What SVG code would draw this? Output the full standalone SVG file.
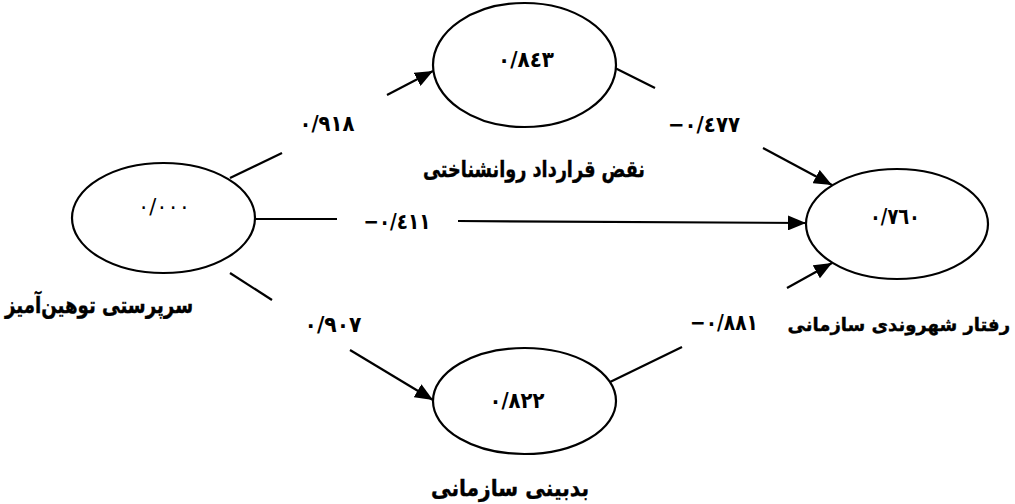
<svg xmlns="http://www.w3.org/2000/svg" width="1015" height="504" viewBox="0 0 1015 504">
<style>
.node ellipse{fill:#fff;stroke:#000;stroke-width:2.2}
.conn line{stroke:#000;stroke-width:2.2;fill:none}
text{font-family:"DejaVu Sans",sans-serif;font-weight:bold;fill:#000}
.val{font-size:22px;text-anchor:middle}
.lbl{font-size:22px;text-anchor:middle}
.name{font-size:23px;text-anchor:middle;stroke:#000;stroke-width:0.4}
</style>
<defs>
<marker id="ah" markerUnits="userSpaceOnUse" markerWidth="19" markerHeight="15" refX="18" refY="7.5" orient="auto">
<path d="M0,0 L18,7.5 L0,15 z" fill="#000"/>
</marker>
</defs>
<rect width="1015" height="504" fill="#fff"/>
<g id="connectors" class="conn">
<line x1="230" y1="178" x2="282" y2="153"/>
<line x1="387" y1="95" x2="433" y2="71" marker-end="url(#ah)"/>
<line x1="615" y1="68" x2="655" y2="88"/>
<line x1="763" y1="148" x2="832" y2="185" marker-end="url(#ah)"/>
<line x1="255" y1="219" x2="337" y2="219"/>
<line x1="458" y1="221" x2="806" y2="223" marker-end="url(#ah)"/>
<line x1="230" y1="273" x2="272" y2="300"/>
<line x1="350" y1="350" x2="433" y2="400" marker-end="url(#ah)"/>
<line x1="608" y1="383" x2="682" y2="347"/>
<line x1="787" y1="288" x2="832" y2="263" marker-end="url(#ah)"/>
</g>
<g id="labels">
<text class="lbl" x="327" y="131" textLength="55" lengthAdjust="spacingAndGlyphs" direction="ltr">٠/٩١٨</text>
<text class="lbl" x="704" y="132" textLength="72" lengthAdjust="spacingAndGlyphs" direction="ltr">−٠/٤٧٧</text>
<text class="lbl" x="397" y="229" textLength="67" lengthAdjust="spacingAndGlyphs" direction="ltr">−٠/٤١١</text>
<text class="lbl" x="333" y="332" textLength="57" lengthAdjust="spacingAndGlyphs" direction="ltr">٠/٩٠٧</text>
<text class="lbl" x="724" y="330" textLength="68" lengthAdjust="spacingAndGlyphs" direction="ltr">−٠/٨٨١</text>
</g>
<g id="node-abusive" class="node">
<ellipse cx="163.5" cy="218" rx="91.5" ry="55"/>
<text class="val" x="164" y="214" style="font-weight:normal" textLength="52" lengthAdjust="spacingAndGlyphs" direction="ltr">٠/٠٠٠</text>
<text class="name" x="99" y="313" textLength="188" lengthAdjust="spacingAndGlyphs">سرپرستی توهین‌آمیز</text>
</g>
<g id="node-breach" class="node">
<ellipse cx="524.5" cy="65" rx="91.5" ry="62"/>
<text class="val" x="526" y="67" textLength="56" lengthAdjust="spacingAndGlyphs" direction="ltr">٠/٨٤٣</text>
<text class="name" x="534" y="177" textLength="222" lengthAdjust="spacingAndGlyphs">نقض قرارداد روانشناختی</text>
</g>
<g id="node-ocb" class="node">
<ellipse cx="897" cy="224" rx="91" ry="55"/>
<text class="val" x="895" y="224" textLength="50" lengthAdjust="spacingAndGlyphs" direction="ltr">٠/٧٦٠</text>
<text class="name" x="1010" y="331" style="text-anchor:end;font-size:18px">رفتار شهروندی سازمانی</text>
</g>
<g id="node-cynicism" class="node">
<ellipse cx="524.5" cy="401" rx="91.5" ry="53"/>
<text class="val" x="517" y="408" textLength="55" lengthAdjust="spacingAndGlyphs" direction="ltr">٠/٨٢٢</text>
<text class="name" x="510" y="496" textLength="158" lengthAdjust="spacingAndGlyphs">بدبینی سازمانی</text>
</g>
</svg>
